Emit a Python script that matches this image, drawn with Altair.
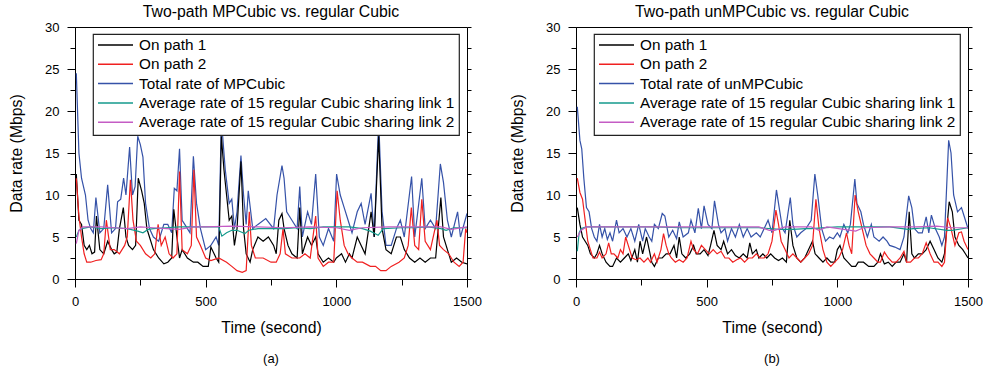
import altair as alt
import pandas as pd

# ---------------- Panel (a): MPCubic ----------------
a_labels = ["On path 1", "On path 2", "Total rate of MPCubic",
            "Average rate of 15 regular Cubic sharing link 1",
            "Average rate of 15 regular Cubic sharing link 2"]

a1_t = [5, 15, 25, 35, 45, 55, 65, 75, 82, 95,
        110, 125, 140, 150, 160, 170, 185, 195, 205, 220,
        232, 242, 255, 265, 275, 285, 300, 320, 340, 355,
        370, 378, 390, 400, 410, 430, 453, 470, 490, 510,
        520, 540, 550, 560, 570, 580, 590, 600, 610, 620,
        635, 645, 655, 670, 680, 700, 720, 740, 760, 770,
        780, 792, 800, 815, 830, 850, 860, 870, 890, 905,
        921, 930, 950, 970, 990, 1000, 1020, 1035, 1050, 1060,
        1080, 1095, 1110, 1133, 1145, 1162, 1175, 1190, 1210, 1230,
        1245, 1260, 1280, 1300, 1320, 1340, 1360, 1380, 1400, 1410,
        1425, 1440, 1460, 1480, 1500]
a1_v = [12.5, 7, 6.5, 4, 3.5, 4, 3, 3.2, 7.5, 3.5,
        3, 4.5, 3.5, 3, 3.2, 6, 8.5, 5, 4, 3.5,
        4, 12, 10.5, 9, 6, 5, 3.5, 2.5, 1.8, 2,
        2.5, 8.3, 5, 2.5, 3.5, 2.5, 2, 2, 1.5, 1.5,
        3.8, 2.5, 2, 17, 13, 10, 7, 7.5, 4, 6,
        14, 6, 3, 2, 3.5, 5, 4.5, 5, 4, 3,
        7, 7.8, 6, 4, 3, 2.5, 8.5, 3, 5, 4,
        5, 3, 2, 2.5, 2, 2.5, 3, 2, 3, 2.5,
        5, 4, 3, 8, 5, 17, 6, 3.5, 3, 5,
        5, 3.5, 2.5, 2, 2.5, 2, 2.5, 2.5, 9.7, 5,
        3.5, 2, 2.5, 2, 1.8]

a2_t = [5, 15, 25, 35, 45, 60, 80, 100, 110, 120,
        135, 150, 170, 190, 200, 212, 222, 235, 250, 270,
        290, 305, 318, 330, 345, 360, 375, 390, 400, 410,
        430, 445, 455, 465, 480, 500, 520, 550, 580, 600,
        620, 640, 655, 667, 675, 690, 720, 750, 770, 785,
        796, 805, 830, 860, 880, 900, 921, 930, 950, 970,
        990, 1003, 1015, 1030, 1045, 1060, 1080, 1100, 1130, 1150,
        1170, 1190, 1210, 1240, 1260, 1275, 1287, 1300, 1315, 1327,
        1340, 1360, 1385, 1395, 1410, 1430, 1450, 1470, 1485, 1495,
        1500]
a2_v = [12, 7.5, 5, 3, 2, 2, 2.2, 2.3, 3, 7,
        3.5, 3.5, 3, 4, 5, 11.8, 7, 4.5, 4, 3,
        2.5, 3, 6.5, 4, 5, 3, 2.5, 3, 12.8, 3.5,
        3, 4, 13, 5, 4, 2.5, 2.2, 2.5, 2, 1.5,
        1, 0.8, 1, 8, 4, 2.5, 2.5, 2, 2, 3,
        6, 3, 2.5, 2.5, 3, 2.5, 7.5, 2.5, 1.5, 2,
        2, 10.5, 7, 4, 3, 2.5, 2, 2, 1.5, 1.5,
        1, 1, 1.5, 2, 2.5, 4, 8.5, 4, 3.5, 9.5,
        4.5, 3.5, 7, 4, 3.5, 3, 2, 1.5, 2, 6,
        5.5]

a3_t = [5, 15, 25, 40, 50, 60, 70, 80, 95, 110,
        125, 140, 155, 163, 175, 186, 195, 209, 220, 230,
        240, 250, 260, 270, 285, 300, 320, 340, 355, 370,
        380, 390, 400, 410, 420, 440, 453, 465, 480, 500,
        520, 540, 550, 560, 565, 575, 590, 600, 610, 620,
        635, 645, 655, 663, 680, 700, 730, 760, 773, 792,
        800, 810, 830, 850, 860, 870, 890, 905, 921, 935,
        950, 970, 990, 1001, 1015, 1030, 1045, 1060, 1080, 1095,
        1110, 1133, 1145, 1162, 1175, 1190, 1210, 1230, 1245, 1260,
        1288, 1300, 1327, 1340, 1360, 1380, 1398, 1410, 1425, 1440,
        1464, 1475, 1500]
a3_v = [24.5, 15, 12, 10, 7, 6, 5.5, 9.7, 5.5, 6,
        11.2, 5.5, 6, 9.2, 9.5, 12, 10, 15.7, 10, 11,
        17, 16, 14.5, 9, 6, 5, 4.5, 6.5, 6.5, 5.5,
        10.8, 10.5, 15.5, 7, 6.5, 5.5, 14.6, 9, 6, 3.5,
        4, 5, 4, 19, 17, 13, 9, 9.5, 6, 8,
        14.7, 10, 6.5, 10.5, 6, 6.5, 7.2, 6, 10, 13.5,
        12, 8, 7, 6, 11, 5, 8, 6.5, 12.5, 5,
        4, 6, 4.5, 12.5, 10, 8.5, 7, 5.5, 8, 9,
        6.5, 10.2, 5, 19, 8, 4, 4, 6, 7, 5,
        12.2, 5, 12, 6, 7, 6, 13.7, 11.5, 7, 5,
        8, 5, 7.8]

a4_t = [5, 15, 25, 60, 100, 150, 200, 240, 260, 280,
        300, 350, 400, 450, 500, 550, 562, 580, 600, 620,
        650, 665, 700, 750, 800, 850, 900, 950, 1000, 1050,
        1100, 1130, 1160, 1180, 1250, 1300, 1350, 1400, 1420, 1450,
        1500]
a4_v = [5.0, 5.8, 6.0, 6.2, 6.0, 6.1, 6.0, 5.7, 5.5, 5.9,
        6.0, 6.1, 6.2, 6.2, 6.2, 6.2, 5.1, 5.5, 5.8, 5.8,
        5.4, 5.8, 6.0, 6.0, 6.0, 6.1, 6.0, 6.2, 6.2, 6.2,
        6.0, 5.7, 5.2, 6.0, 6.1, 6.1, 6.2, 6.0, 5.8, 6.1,
        6.1]

a5_t = [5, 15, 30, 100, 150, 200, 250, 300, 350, 400,
        450, 500, 600, 700, 800, 900, 1000, 1050, 1100, 1200,
        1300, 1400, 1440, 1500]
a5_v = [4.2, 5.8, 6.2, 6.2, 6.1, 6.0, 6.2, 6.1, 6.0, 5.9,
        6.2, 6.2, 6.3, 6.2, 6.1, 6.2, 6.1, 5.8, 6.1, 6.2,
        6.2, 6.2, 5.9, 6.2]

# ---------------- Panel (b): unMPCubic ----------------
b_labels = ["On path 1", "On path 2", "Total rate of unMPCubic",
            "Average rate of 15 regular Cubic sharing link 1",
            "Average rate of 15 regular Cubic sharing link 2"]

b1_t = [5, 15, 25, 35, 45, 55, 70, 80, 90, 100,
        115, 130, 140, 155, 170, 185, 200, 210, 225, 235,
        245, 255, 270, 280, 290, 300, 315, 330, 345, 360,
        375, 385, 395, 405, 420, 435, 450, 460, 475, 490,
        505, 515, 528, 540, 555, 565, 580, 595, 610, 625,
        640, 655, 665, 675, 690, 700, 715, 730, 745, 760,
        775, 790, 805, 818, 830, 845, 860, 875, 890, 905,
        915, 930, 945, 960, 975, 990, 1000, 1010, 1025, 1040,
        1055, 1070, 1080, 1100, 1120, 1140, 1155, 1165, 1180, 1195,
        1210, 1225, 1240, 1255, 1265, 1275, 1285, 1295, 1310, 1325,
        1340, 1355, 1370, 1385, 1400, 1410, 1428, 1440, 1450, 1465,
        1480, 1490, 1500]
b1_v = [8.5, 6.5, 5, 4.5, 4, 3, 2.5, 3, 4, 3,
        2, 1.5, 1.5, 2.5, 2, 2.5, 3, 2.2, 3.5, 2,
        4.5, 3, 5, 3.5, 2, 1.5, 2.5, 2.5, 3, 3,
        4, 2.5, 5, 3, 2.5, 3, 4, 3, 3, 3.5,
        2.8, 4, 5.8, 4, 3.5, 4.5, 3, 3.5, 2.8, 2.5,
        3, 2.5, 4.3, 3, 3.5, 2.5, 3, 2.5, 3, 2.5,
        2.2, 2.5, 2, 7, 4, 2.5, 2, 2.5, 3.5, 4.5,
        3, 2.5, 2, 2.5, 2, 2, 3.5, 4, 2.5, 2,
        1.5, 1.5, 2, 2, 1.5, 1.5, 2, 3, 1.8, 2,
        1.5, 2, 2, 3, 2, 8.0, 3, 2.5, 3, 3,
        3.5, 4.5, 3.5, 2.5, 2, 3, 9.2, 8, 5, 4,
        3.5, 3, 2.5]

b2_t = [5, 15, 25, 35, 45, 55, 65, 80, 90, 100,
        115, 125, 135, 145, 160, 170, 180, 190, 200, 215,
        230, 245, 260, 275, 285, 300, 310, 325, 335, 345,
        355, 365, 380, 395, 410, 425, 440, 450, 465, 480,
        495, 510, 525, 540, 555, 570, 585, 600, 615, 630,
        645, 660, 675, 690, 705, 720, 735, 750, 765, 775,
        785, 800, 815, 830, 845, 860, 875, 890, 905, 918,
        930, 945, 960, 975, 990, 1005, 1020, 1035, 1045, 1055,
        1068, 1080, 1095, 1110, 1125, 1140, 1155, 1165, 1180, 1195,
        1210, 1225, 1240, 1255, 1265, 1280, 1295, 1310, 1325, 1340,
        1355, 1370, 1385, 1400, 1410, 1422, 1435, 1450, 1465, 1475,
        1485, 1500]
b2_v = [12, 10.3, 9.5, 7, 4.5, 3.5, 2.5, 2.5, 3.2, 2.5,
        3, 4.3, 3, 3, 2.5, 3.5, 3, 5, 4, 2.5,
        2.3, 2.5, 2, 2.5, 2, 3, 2, 3.5, 5.4, 4,
        3, 2.5, 2, 2.3, 2, 2.5, 4.5, 3.5, 3, 4,
        3.5, 3, 3.5, 3, 3.3, 2.5, 2.5, 2, 2.3, 2.5,
        2, 2.5, 2.5, 3, 2.5, 2.5, 3, 4.5, 8.2, 6.5,
        4.5, 3.5, 2.5, 3, 2.5, 2, 2.5, 3, 4, 9.5,
        6, 3.5, 2, 1.5, 2, 2.5, 3.5, 5.5, 4, 3,
        10, 8, 6, 4, 3, 2.5, 2, 2, 3.2, 2.5,
        2, 2, 2.5, 3.3, 2.0, 2.0, 2.5, 2.5, 3, 4.3,
        3, 2, 2, 1.5, 2, 7.3, 6, 4, 5.5, 5.6,
        4.5, 3.5]

b3_t = [5, 15, 22, 30, 40, 50, 60, 70, 80, 90,
        100, 110, 120, 130, 140, 155, 165, 180, 195, 210,
        225, 240, 255, 265, 280, 290, 300, 315, 330, 340,
        355, 370, 385, 395, 410, 430, 440, 455, 468, 480,
        490, 505, 520, 530, 545, 555, 570, 580, 595, 610,
        625, 640, 655, 670, 690, 705, 720, 735, 750, 767,
        780, 790, 800, 820, 830, 845, 860, 880, 900, 914,
        925, 940, 955, 970, 985, 1000, 1010, 1025, 1040, 1050,
        1067, 1075, 1090, 1100, 1115, 1130, 1140, 1160, 1175, 1190,
        1200, 1220, 1240, 1255, 1273, 1285, 1295, 1310, 1325, 1340,
        1350, 1360, 1375, 1390, 1400, 1410, 1426, 1435, 1445, 1460,
        1475, 1485, 1500]
b3_v = [20.5, 16.5, 15.5, 12, 8.5, 8, 6, 5, 4.5, 6.5,
        5, 6, 4.7, 5.5, 4.5, 7, 5.5, 6, 5, 6,
        4.5, 6.5, 4.5, 6, 5, 4.5, 6.5, 6, 7.8, 7.5,
        5, 5.8, 4.8, 6.8, 5, 5.5, 7, 5.5, 8.4, 6,
        8.7, 6.5, 6, 9.3, 6.5, 5.5, 6, 4.5, 6, 5,
        6.5, 5, 6, 5, 5.5, 5, 6, 7, 5.5, 10.6,
        8, 6, 5.5, 9.7, 6.5, 5, 5.5, 6, 7, 12.5,
        10, 6, 4.5, 5, 4.8, 5.5, 5, 6.5, 5.5, 6.5,
        11.9, 9, 8, 6.5, 5, 6.5, 5, 4.5, 5, 4.5,
        4, 3.8, 3.5, 5, 9.9, 8.5, 6, 5.5, 5.5, 7.4,
        5.5, 7.6, 6, 5, 4, 5, 16.5, 15, 10, 8,
        8.5, 7.5, 6]

b4_t = [5, 12, 20, 40, 100, 200, 300, 400, 500, 600,
        700, 780, 830, 880, 900, 1000, 1100, 1200, 1270, 1290,
        1350, 1420, 1440, 1500]
b4_v = [3.3, 5.5, 6.0, 6.2, 6.2, 6.2, 6.2, 6.1, 6.1, 6.1,
        6.1, 5.9, 5.9, 6.0, 6.0, 6.2, 6.2, 6.2, 5.9, 6.0,
        6.1, 5.8, 5.8, 6.1]

b5_t = [5, 20, 40, 100, 300, 500, 700, 740, 760, 800,
        900, 930, 960, 1070, 1100, 1200, 1300, 1380, 1440, 1500]
b5_v = [5.0, 5.8, 6.2, 6.2, 6.2, 6.2, 6.2, 5.8, 5.8, 6.2,
        6.2, 5.8, 6.2, 5.7, 6.1, 6.2, 6.2, 6.3, 6.1, 6.1]

x_ticks = [0, 250, 500, 750, 1000, 1250, 1500]
y_ticks = [0, 2.5, 5, 7.5, 10, 12.5, 15, 17.5, 20, 22.5, 25, 27.5, 30]

FONT = "Liberation Sans"
COLORS = ["#000000", "#f02020", "#3552a8", "#159a8c", "#c45cc4"]
PW, PH = 392, 252


def long_df(labels, series):
    # draw order: total first (underneath), then paths, then averages
    order = [2, 0, 1, 3, 4]
    frames = []
    for i in order:
        t, v = series[i]
        frames.append(pd.DataFrame({"t": t, "v": v, "s": labels[i]}))
    return pd.concat(frames, ignore_index=True)


def panel(labels, series, title, caption):
    df = long_df(labels, series)
    xscale = alt.Scale(domain=[0, 1500], nice=False, zero=False)
    yscale = alt.Scale(domain=[0, 30], nice=False)
    x = alt.X("t:Q", title="Time (second)", scale=xscale,
              axis=alt.Axis(values=x_ticks, format="d",
                            labelExpr="datum.value % 500 === 0 ? datum.label : ''",
                            tickSize={"condition": {"test": "datum.value % 500 === 0", "value": 8}, "value": 6},
                            labelFlush=False, labelOverlap=False,
                            labelPadding=8, titlePadding=12, grid=False))
    y = alt.Y("v:Q", title="Data rate (Mbps)", scale=yscale,
              axis=alt.Axis(values=y_ticks, format="d",
                            labelExpr="datum.value % 5 === 0 ? datum.label : ''",
                            tickSize={"condition": {"test": "datum.value % 5 === 0", "value": 8}, "value": 5},
                            labelOverlap=False, labelPadding=8,
                            titlePadding=20, grid=False))
    color = alt.Color("s:N", scale=alt.Scale(domain=labels, range=COLORS),
                      legend=alt.Legend(title=None, orient="none", legendX=18, legendY=7,
                                        direction="vertical", fillColor="white",
                                        strokeColor="#222222",
                                        padding=4,
                                        symbolType="stroke", symbolSize=1225,
                                        symbolStrokeWidth=1.5, clipHeight=14,
                                        rowPadding=3.3, labelOffset=5, labelLimit=0,
                                        labelFont=FONT, labelFontSize=15.3,
                                        labelColor="black"))
    lines = alt.Chart(df).mark_line(strokeWidth=1.2, clip=True).encode(
        x=x, y=y, color=color, order=alt.Order("t:Q"))
    ghost = alt.Chart(df).mark_line(strokeOpacity=0, clip=True).encode(
        x=x,
        y=alt.Y("v:Q", title="", scale=yscale,
                axis=alt.Axis(orient="right", values=y_ticks, labels=False,
                              tickSize=4, domain=False, grid=False)),
        detail="s:N")
    cap = alt.Chart(pd.DataFrame({"c": [caption]})).mark_text(
        font=FONT, fontSize=13, color="black", baseline="middle").encode(
        text="c:N", x=alt.value(PW / 2), y=alt.value(PH + 80))
    return alt.layer(lines, ghost, cap).resolve_axis(y="independent").properties(
        width=PW, height=PH,
        title=alt.TitleParams(title, frame="group", offset=0, fontSize=15.8,
                              font=FONT, fontWeight="normal", color="black"))


a_series = [(a1_t, a1_v), (a2_t, a2_v), (a3_t, a3_v), (a4_t, a4_v), (a5_t, a5_v)]
b_series = [(b1_t, b1_v), (b2_t, b2_v), (b3_t, b3_v), (b4_t, b4_v), (b5_t, b5_v)]

pa = panel(a_labels, a_series, "Two-path MPCubic vs. regular Cubic", "(a)")
pb = panel(b_labels, b_series, "Two-path unMPCubic vs. regular Cubic", "(b)")

chart = alt.hconcat(pa, pb, spacing=27).resolve_scale(
    color="independent").resolve_legend(color="independent").properties(
    padding={"left": 8, "top": 3, "right": 0, "bottom": 0},
    background="white"
).configure(font=FONT).configure_axis(
    labelFont=FONT, titleFont=FONT, labelFontSize=13, titleFontSize=15.8,
    labelColor="black", titleColor="black", titleFontWeight="normal",
    domainColor="black", tickColor="black", domainWidth=1, tickWidth=1
).configure_legend(strokeWidth=1.2, strokeColor="#222222", fillColor="white"
).configure_view(stroke="black", strokeWidth=1)

chart.save("out.html", embed_options={"renderer": "svg", "actions": False})
